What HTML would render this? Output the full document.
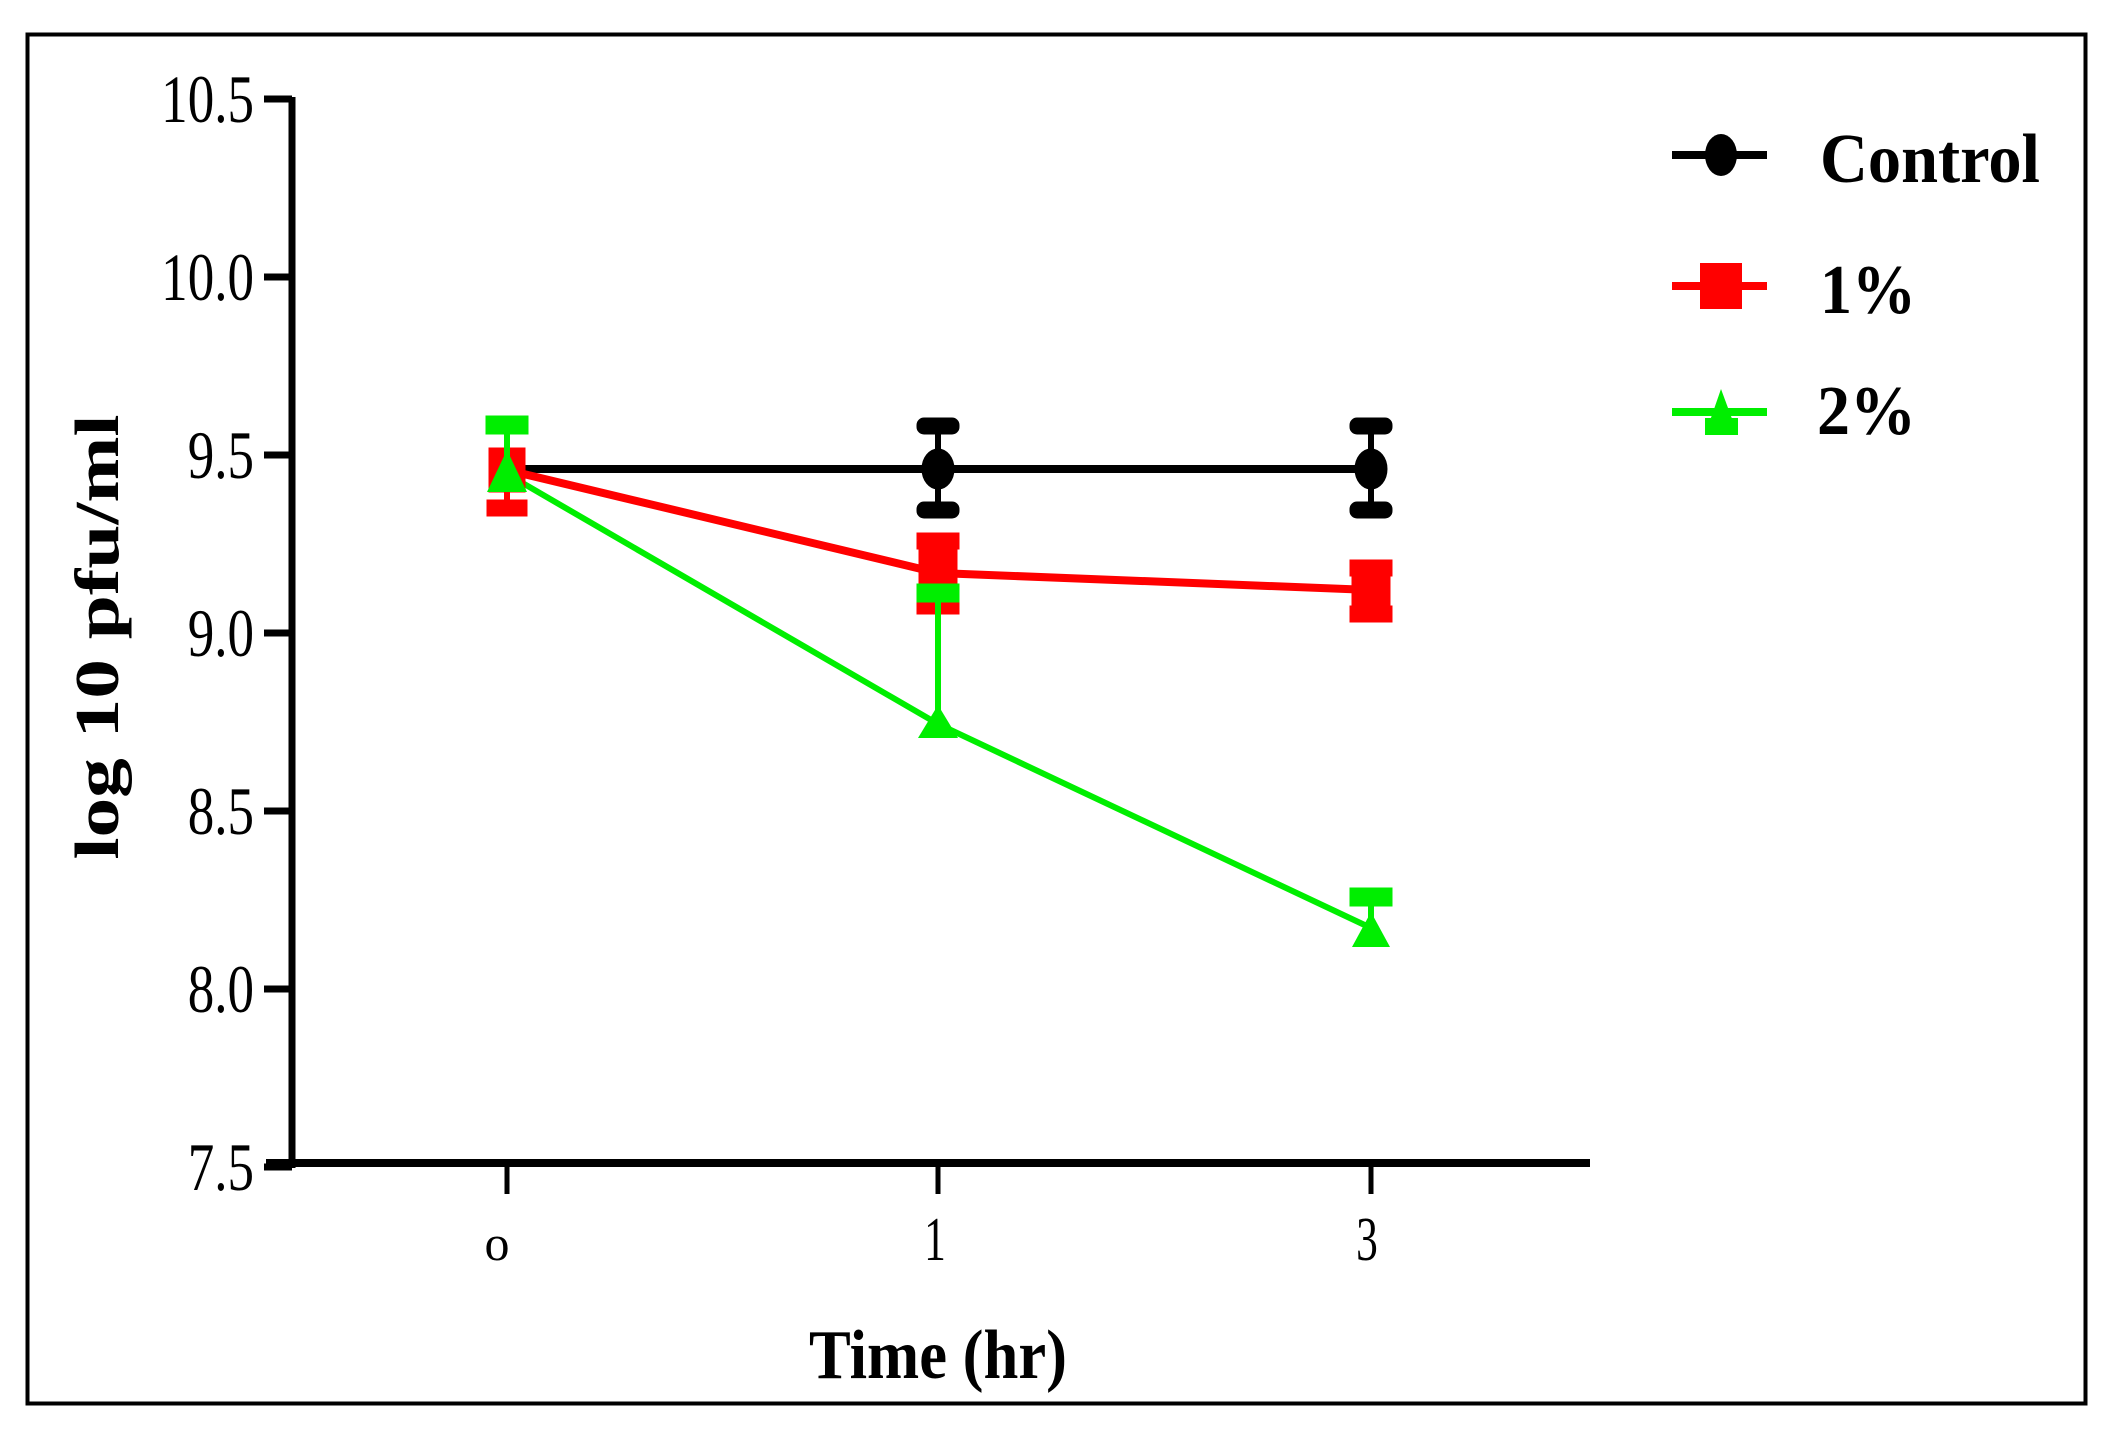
<!DOCTYPE html>
<html><head><meta charset="utf-8"><style>
html,body{margin:0;padding:0;background:#fff;}
svg{display:block;}
text{font-family:"Liberation Serif",serif;fill:#000;}
</style></head><body>
<svg width="2114" height="1430" viewBox="0 0 2114 1430" xmlns="http://www.w3.org/2000/svg">
<rect x="0" y="0" width="2114" height="1430" fill="#fff"/>
<rect x="27.5" y="34.5" width="2058" height="1369" fill="none" stroke="#000" stroke-width="4"/>
<line x1="292" y1="97" x2="292" y2="1168" stroke="#000" stroke-width="7"/>
<line x1="266" y1="1163" x2="1590" y2="1163" stroke="#000" stroke-width="8"/>
<g stroke="#000" stroke-width="7">
<line x1="264" y1="99" x2="292" y2="99"/>
<line x1="264" y1="277" x2="292" y2="277"/>
<line x1="264" y1="455" x2="292" y2="455"/>
<line x1="264" y1="633" x2="292" y2="633"/>
<line x1="264" y1="811" x2="292" y2="811"/>
<line x1="264" y1="989" x2="292" y2="989"/>
<line x1="264" y1="1167" x2="292" y2="1167"/>
</g>
<g stroke="#000" stroke-width="5">
<line x1="507" y1="1163" x2="507" y2="1194"/>
<line x1="938" y1="1163" x2="938" y2="1194"/>
<line x1="1371" y1="1163" x2="1371" y2="1194"/>
</g>
<g font-size="68" text-anchor="end">
<text x="254" y="122" transform="translate(254 0) scale(0.78 1) translate(-254 0)">10.5</text>
<text x="254" y="300" transform="translate(254 0) scale(0.78 1) translate(-254 0)">10.0</text>
<text x="254" y="478" transform="translate(254 0) scale(0.78 1) translate(-254 0)">9.5</text>
<text x="254" y="656" transform="translate(254 0) scale(0.78 1) translate(-254 0)">9.0</text>
<text x="254" y="834" transform="translate(254 0) scale(0.78 1) translate(-254 0)">8.5</text>
<text x="254" y="1012" transform="translate(254 0) scale(0.78 1) translate(-254 0)">8.0</text>
<text x="254" y="1190" transform="translate(254 0) scale(0.78 1) translate(-254 0)">7.5</text>
</g>
<g font-size="62" text-anchor="middle">
<text x="497" y="1260" font-size="50">o</text>
<text x="935" y="1260" transform="translate(935 0) scale(0.7 1) translate(-935 0)">1</text>
<text x="1367" y="1260" transform="translate(1367 0) scale(0.7 1) translate(-1367 0)">3</text>
</g>
<text x="938" y="1378" font-size="70" font-weight="bold" text-anchor="middle" textLength="258" lengthAdjust="spacingAndGlyphs">Time (hr)</text>
<text transform="translate(118 637) rotate(-90)" font-size="62" font-weight="bold" text-anchor="middle" textLength="445" lengthAdjust="spacingAndGlyphs">log 10 pfu/ml</text>
<polyline points="507,469 938,469 1371,469" fill="none" stroke="#000" stroke-width="8"/>
<polyline points="507,470 938,573 1371,590" fill="none" stroke="#ff0000" stroke-width="8"/>
<polyline points="507,474 938,724 1371,928" fill="none" stroke="#00ee00" stroke-width="6"/>
<g stroke="#000" fill="#000">
<line x1="938" y1="425" x2="938" y2="510" stroke-width="6"/>
<line x1="1371" y1="425" x2="1371" y2="510" stroke-width="6"/>
<rect x="917" y="418" width="42" height="16" rx="7"/>
<rect x="917" y="502" width="42" height="16" rx="7"/>
<rect x="1350" y="418" width="42" height="16" rx="7"/>
<rect x="1350" y="502" width="42" height="16" rx="7"/>
<ellipse cx="938" cy="469" rx="16" ry="20"/>
<ellipse cx="1371" cy="469" rx="16" ry="20"/>
</g>
<g stroke="#ff0000" fill="#ff0000">
<line x1="507" y1="449" x2="507" y2="512" stroke-width="6"/>
<rect x="487" y="500" width="40" height="16"/>
<rect x="489" y="448" width="36" height="44"/>
<line x1="938" y1="533" x2="938" y2="612" stroke-width="6"/>
<rect x="917" y="533" width="42" height="16"/>
<rect x="917" y="598" width="42" height="16"/>
<rect x="919" y="550" width="38" height="46"/>
<line x1="1371" y1="562" x2="1371" y2="621" stroke-width="6"/>
<rect x="1350" y="560" width="42" height="16"/>
<rect x="1350" y="606" width="42" height="16"/>
<rect x="1352" y="570" width="38" height="40"/>
</g>
<g stroke="#00ee00" fill="#00ee00">
<line x1="507" y1="420" x2="507" y2="480" stroke-width="6"/>
<rect x="486" y="416" width="42" height="18"/>
<polygon points="507,450 487,492 527,492" stroke="none"/>
<line x1="938" y1="590" x2="938" y2="725" stroke-width="6"/>
<rect x="917" y="584" width="42" height="18"/>
<polygon points="938,705 918,738 958,738" stroke="none"/>
<line x1="1371" y1="892" x2="1371" y2="935" stroke-width="6"/>
<rect x="1350" y="888" width="42" height="18"/>
<polygon points="1371,912 1352,947 1390,947" stroke="none"/>
</g>
<line x1="1672" y1="155" x2="1767" y2="155" stroke="#000" stroke-width="8"/>
<ellipse cx="1721" cy="155" rx="16" ry="21" fill="#000"/>
<line x1="1672" y1="286" x2="1767" y2="286" stroke="#ff0000" stroke-width="8"/>
<rect x="1700" y="263" width="42" height="46" fill="#ff0000"/>
<line x1="1672" y1="412" x2="1767" y2="412" stroke="#00ee00" stroke-width="8"/>
<polygon points="1721,389 1705,435 1738,435" fill="#00ee00"/>
<rect x="1705" y="418" width="33" height="17" fill="#00ee00"/>
<g font-size="70" font-weight="bold">
<text x="1820" y="182" textLength="220" lengthAdjust="spacingAndGlyphs">Control</text>
<text x="1820" y="313" textLength="96" lengthAdjust="spacingAndGlyphs">1%</text>
<text x="1817" y="434" textLength="99" lengthAdjust="spacingAndGlyphs">2%</text>
</g>
</svg>
</body></html>
